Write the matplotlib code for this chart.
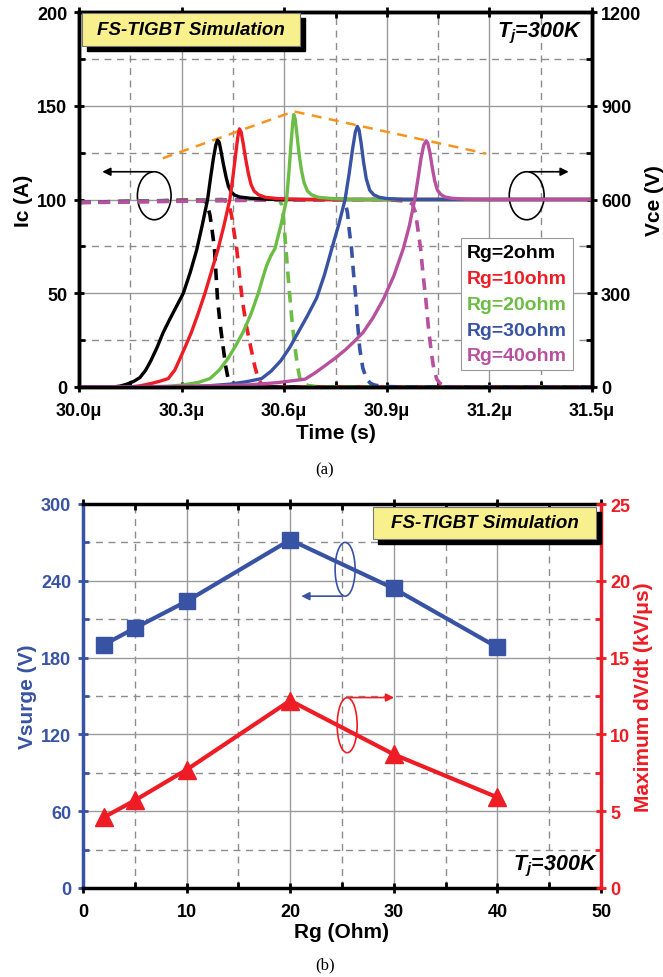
import numpy as np
import matplotlib.pyplot as plt
from matplotlib.patches import Ellipse, Rectangle
from matplotlib.ticker import MultipleLocator, FuncFormatter

plt.rcParams['font.family'] = ['Liberation Sans', 'DejaVu Sans']
plt.rcParams['font.weight'] = 'bold'
plt.rcParams['mathtext.fontset'] = 'custom'
plt.rcParams['mathtext.it'] = 'Liberation Sans:italic:bold'
plt.rcParams['mathtext.rm'] = 'Liberation Sans:bold'

# ---- (a) turn-off waveforms, time in microseconds ----
rg_labels = ['Rg=2ohm', 'Rg=10ohm', 'Rg=20ohm', 'Rg=30ohm', 'Rg=40ohm']
colors = ['#000000', '#ee1c24', '#6cbd45', '#3953a4', '#b7509e']

# Vce (V), solid lines, right axis
vce_t_2 = [30.0, 30.10, 30.12, 30.14, 30.16, 30.178, 30.195, 30.21, 30.228, 30.246, 30.265, 30.285,
           30.305, 30.325, 30.344, 30.36, 30.376, 30.385, 30.393, 30.40, 30.405, 30.41, 30.416, 30.422,
           30.43, 30.437, 30.445, 30.455, 30.47, 30.5, 30.55, 30.6, 31.5]
vce_v_2 = [0, 0, 3, 9, 18, 30, 54, 84, 126, 174, 216, 258, 300, 366, 438, 516, 600, 672, 732, 774,
           790, 783, 750, 714, 672, 642, 624, 614, 608, 604, 601, 600, 600]
vce_t_10 = [30.0, 30.15, 30.18, 30.21, 30.235, 30.261, 30.28, 30.295, 30.312, 30.329, 30.348, 30.368,
            30.388, 30.407, 30.425, 30.441, 30.45, 30.458, 30.464, 30.469, 30.474, 30.48, 30.487,
            30.495, 30.503, 30.512, 30.525, 30.545, 30.58, 30.65, 31.5]
vce_v_10 = [0, 0, 4, 11, 18, 27, 54, 90, 132, 176, 234, 299, 372, 443, 522, 600, 672, 744, 798, 826,
            816, 780, 732, 684, 648, 627, 615, 607, 603, 600, 600]
vce_t_20 = [30.0, 30.2, 30.26, 30.3, 30.35, 30.383, 30.41, 30.435, 30.458, 30.48, 30.503, 30.524,
            30.537, 30.549, 30.561, 30.573, 30.59, 30.607, 30.614, 30.62, 30.625, 30.628, 30.632,
            30.637, 30.643, 30.65, 30.658, 30.668, 30.68, 30.7, 30.74, 30.8, 31.5]
vce_v_20 = [0, 0, 2, 6, 15, 27, 54, 90, 132, 176, 234, 299, 348, 390, 420, 443, 516, 600, 690, 780,
            846, 872, 858, 810, 750, 696, 654, 627, 615, 607, 603, 600, 600]
vce_t_30 = [30.0, 30.3, 30.38, 30.44, 30.49, 30.534, 30.562, 30.59, 30.616, 30.641, 30.668, 30.695,
            30.718, 30.739, 30.76, 30.778, 30.79, 30.8, 30.808, 30.814, 30.819, 30.825, 30.832, 30.84,
            30.85, 30.862, 30.878, 30.9, 30.95, 31.5]
vce_v_30 = [0, 0, 4, 9, 17, 27, 51, 84, 126, 175, 228, 285, 360, 442, 522, 600, 684, 762, 816, 834,
            822, 780, 720, 666, 630, 615, 607, 603, 600, 600]
vce_t_40 = [30.0, 30.3, 30.4, 30.5, 30.58, 30.661, 30.69, 30.719, 30.75, 30.78, 30.806, 30.831, 30.86,
            30.89, 30.92, 30.948, 30.966, 30.982, 30.992, 31.0, 31.008, 31.015, 31.02, 31.026, 31.033,
            31.04, 31.048, 31.058, 31.07, 31.09, 31.13, 31.2, 31.5]
vce_v_40 = [0, 2, 4, 7, 14, 25, 45, 68, 93, 120, 147, 175, 222, 281, 354, 442, 516, 602, 672, 732,
            774, 788, 780, 750, 702, 660, 630, 616, 608, 604, 601, 600, 600]

# Ic (A), dashed lines, left axis
ic_t_2 = [30.0, 30.2, 30.35, 30.37, 30.377, 30.383, 30.389, 30.396, 30.40, 30.405, 30.413, 30.422,
          30.429, 30.436, 30.442, 30.45, 30.46, 31.5]
ic_a_2 = [98.5, 99.2, 99.8, 99, 96, 91.6, 84, 73.9, 62, 47, 33, 20.5, 11, 4.5, 2, 0.6, 0, 0]
ic_t_10 = [30.0, 30.3, 30.42, 30.435, 30.441, 30.446, 30.453, 30.461, 30.469, 30.477, 30.489, 30.503,
           30.514, 30.524, 30.532, 30.545, 30.56, 31.5]
ic_a_10 = [98.5, 99.5, 100, 98.5, 95.5, 91.6, 83, 73.9, 60, 47, 33, 20.5, 11, 4.5, 2, 0.6, 0, 0]
ic_t_20 = [30.0, 30.4, 30.585, 30.592, 30.597, 30.601, 30.605, 30.611, 30.617, 30.624, 30.632, 30.639,
           30.646, 30.655, 30.67, 30.69, 30.72, 31.5]
ic_a_20 = [98.5, 99.8, 100, 97.5, 91.6, 83, 73.9, 60, 47, 33, 20.5, 11, 4.5, 2, 0.8, 0.3, 0, 0]
ic_t_30 = [30.0, 30.5, 30.772, 30.779, 30.785, 30.79, 30.797, 30.803, 30.81, 30.815, 30.821, 30.83,
           30.841, 30.852, 30.865, 30.89, 30.95, 31.5]
ic_a_30 = [98.5, 99.8, 100, 98, 93, 84, 73.6, 60, 46.9, 33, 20.3, 10, 4.2, 2, 1, 0.3, 0, 0]
ic_t_40 = [30.0, 30.6, 30.9, 30.96, 30.975, 30.984, 30.991, 30.999, 31.006, 31.014, 31.021, 31.029,
           31.037, 31.046, 31.055, 31.07, 31.09, 31.5]
ic_a_40 = [98.3, 99.8, 100, 99, 97.5, 93, 84, 73.6, 60, 46.9, 33, 20.3, 10, 4.2, 2, 0.7, 0, 0]

# envelope through the voltage peaks (left-axis units)
peak_env_t = [30.245, 30.628, 31.19]
peak_env_a = [122, 147, 124.5]

# ---- (b) surge voltage and dV/dt versus gate resistance ----
rg = [2, 5, 10, 20, 30, 40]
vsurge = [190, 203, 224, 272, 234, 188]
dvdt_max = [4.6, 5.7, 7.7, 12.2, 8.7, 5.9]

blue = '#3953a4'
red = '#ee1c24'
grid_major = dict(color='#9a9a9a', lw=1.0)
grid_minor = dict(color='#8c8c8c', lw=1.0, ls=(0, (5, 4)))

W, H = 663, 978
fig = plt.figure(figsize=(W / 100, H / 100), dpi=100)


def sim_box(x0, y0, x1, y1):
    # yellow label with a black drop shadow, pixel coords from the top-left
    fig.add_artist(Rectangle((x0 / W + 5 / W, 1 - (y1 + 5) / H), (x1 - x0) / W, (y1 - y0) / H,
                             transform=fig.transFigure, color='black', zorder=10))
    fig.add_artist(Rectangle((x0 / W, 1 - y1 / H), (x1 - x0) / W, (y1 - y0) / H,
                             transform=fig.transFigure, facecolor='#f8f08c', edgecolor='#777777',
                             lw=0.8, zorder=11))
    fig.text((x0 + x1) / 2 / W, 1 - (y0 + y1) / 2 / H, 'FS-TIGBT Simulation', ha='center', va='center',
             fontsize=13.5, fontweight='bold', fontstyle='italic', zorder=12)


def style_axes(a, side_pad):
    for s in a.spines.values():
        s.set_linewidth(2.5)
    a.tick_params(which='major', direction='inout', length=7, width=2, labelsize=13)
    a.tick_params(which='minor', direction='in', length=4, width=2)
    a.tick_params(axis='x', which='major', pad=7)
    a.tick_params(axis='y', which='major', pad=side_pad)


# ---------------- panel (a) ----------------
ax = fig.add_axes([79 / W, 1 - 388 / H, 513 / W, 375 / H])
ax2 = ax.twinx()

for t, a, c in zip([ic_t_2, ic_t_10, ic_t_20, ic_t_30, ic_t_40],
                   [ic_a_2, ic_a_10, ic_a_20, ic_a_30, ic_a_40], colors):
    ax.plot(t, a, color=c, lw=2.6, ls=(0, (3.2, 2.2)))
ax.plot(peak_env_t, peak_env_a, color='#f7941d', lw=1.8, ls=(0, (4, 3)))

for t, v, c, lab in zip([vce_t_2, vce_t_10, vce_t_20, vce_t_30, vce_t_40],
                        [vce_v_2, vce_v_10, vce_v_20, vce_v_30, vce_v_40], colors, rg_labels):
    ax2.plot(t, v, color=c, lw=2.4, label=lab, solid_joinstyle='round')

ax.set_xlim(30.0, 31.5)
ax.set_ylim(0, 200)
ax2.set_ylim(0, 1200)
ax.xaxis.set_major_locator(MultipleLocator(0.3))
ax.xaxis.set_minor_locator(MultipleLocator(0.15))
ax.xaxis.set_major_formatter(FuncFormatter(lambda v, p: f'{v:.1f}μ'))
ax.yaxis.set_major_locator(MultipleLocator(50))
ax.yaxis.set_minor_locator(MultipleLocator(25))
ax2.yaxis.set_major_locator(MultipleLocator(300))
ax2.yaxis.set_minor_locator(MultipleLocator(150))
ax.grid(which='major', **grid_major)
ax.grid(which='minor', **grid_minor)
ax.set_axisbelow(True)

style_axes(ax, 5)
style_axes(ax2, 3)
ax.tick_params(top=True, which='both')

ax.set_ylabel('Ic (A)', fontsize=15, fontweight='bold', labelpad=3)
ax2.set_ylabel('Vce (V)', fontsize=15, fontweight='bold', labelpad=3)
ax.set_xlabel('Time (s)', fontsize=15, fontweight='bold', labelpad=3)

leg = ax2.legend(loc='lower right', bbox_to_anchor=(0.963, 0.045), fontsize=14, handlelength=0,
                 handletextpad=0, fancybox=False, framealpha=1, edgecolor='#999999',
                 borderpad=0.3, labelspacing=0.42, borderaxespad=0)
leg.get_frame().set_linewidth(0.8)
for txt, c in zip(leg.get_texts(), colors):
    txt.set_color(c)
    txt.set_fontweight('bold')

# current / voltage axis markers
ax.add_patch(Ellipse((30.22, 102), 0.0985, 25.6, fill=False, ec='black', lw=1.2))
ax.annotate('', xy=(30.06, 114.8), xytext=(30.222, 114.8),
            arrowprops=dict(arrowstyle='-|>', color='black', lw=1.2, mutation_scale=12))
ax.add_patch(Ellipse((31.309, 102), 0.102, 25.6, fill=False, ec='black', lw=1.2))
ax.annotate('', xy=(31.44, 114.8), xytext=(31.309, 114.8),
            arrowprops=dict(arrowstyle='-|>', color='black', lw=1.2, mutation_scale=12))

sim_box(82, 14, 300, 47)
fig.text(582 / W, 1 - 33 / H, r'$T_j$=300K', ha='right', va='center', fontsize=15.5,
         fontweight='bold', fontstyle='italic')
fig.text(325 / W, 1 - 470 / H, '(a)', ha='center', va='center', fontsize=12,
         family='Liberation Serif', fontweight='normal')

# ---------------- panel (b) ----------------
bx = fig.add_axes([83 / W, 1 - 889 / H, 518 / W, 384 / H])
bx2 = bx.twinx()

bx.plot(rg, vsurge, color=blue, lw=3, marker='s', ms=11, clip_on=False, zorder=3)
bx2.plot(rg, dvdt_max, color=red, lw=3, marker='^', ms=13, clip_on=False, zorder=3)

bx.set_xlim(0, 50)
bx.set_ylim(0, 300)
bx2.set_ylim(0, 25)
bx.xaxis.set_major_locator(MultipleLocator(10))
bx.xaxis.set_minor_locator(MultipleLocator(5))
bx.yaxis.set_major_locator(MultipleLocator(60))
bx.yaxis.set_minor_locator(MultipleLocator(30))
bx2.yaxis.set_major_locator(MultipleLocator(5))
bx2.yaxis.set_minor_locator(MultipleLocator(2.5))
bx.grid(which='major', **grid_major)
bx.grid(which='minor', **grid_minor)
bx.set_axisbelow(True)

style_axes(bx, 5)
style_axes(bx2, 3)
bx.tick_params(top=True, which='both')
bx.spines['left'].set_color(blue)
bx2.spines['right'].set_color(red)
bx2.spines['left'].set_visible(False)
bx2.spines['top'].set_visible(False)
bx2.spines['bottom'].set_visible(False)
bx.spines['right'].set_visible(False)
bx.tick_params(axis='y', colors=blue, which='both')
bx2.tick_params(axis='y', colors=red, which='both')

bx.set_ylabel('Vsurge (V)', fontsize=15, fontweight='bold', color=blue, labelpad=3)
bx2.set_ylabel('Maximum dV/dt (kV/μs)', fontsize=15, fontweight='bold', color=red, labelpad=3)
bx.set_xlabel('Rg (Ohm)', fontsize=15, fontweight='bold', labelpad=2)

bx.add_patch(Ellipse((25.3, 249), 1.93, 42, fill=False, ec=blue, lw=1.2))
bx.annotate('', xy=(20.8, 228), xytext=(25.3, 228),
            arrowprops=dict(arrowstyle='-|>', color=blue, lw=1.2, mutation_scale=12))
bx2.add_patch(Ellipse((25.5, 10.6), 1.93, 3.58, fill=False, ec=red, lw=1.2))
bx2.annotate('', xy=(30.3, 12.4), xytext=(25.5, 12.4),
             arrowprops=dict(arrowstyle='-|>', color=red, lw=1.2, mutation_scale=12))

sim_box(373, 508, 596, 540)
fig.text(598 / W, 1 - 866 / H, r'$T_j$=300K', ha='right', va='center', fontsize=15.5,
         fontweight='bold', fontstyle='italic')
fig.text(325 / W, 1 - 965 / H, '(b)', ha='center', va='center', fontsize=12,
         family='Liberation Serif', fontweight='normal')

fig.savefig('out.png', dpi=100)
